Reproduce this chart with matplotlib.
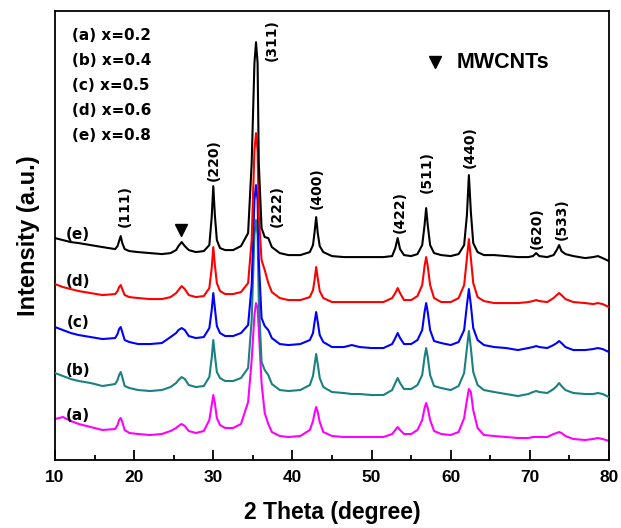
import numpy as np
import matplotlib
matplotlib.use('Agg')
import matplotlib.pyplot as plt

# 2 theta grid shared by all patterns
two_theta = [10, 11, 12, 13, 14.5, 16, 17.6,
             17.9, 18.1, 18.3, 18.5, 18.8, 19.4,
             20.5, 22, 23.5, 24.6, 25.3,
             25.6, 26.0, 26.4, 26.9, 27.8,
             28.8, 29.5, 29.8,
             30.0, 30.2, 30.45, 30.85,
             31.5, 32.5, 33.5, 34.4,
             34.85, 35.2, 35.4, 35.6, 35.75, 36.1, 36.5, 36.95, 37.4, 38.4,
             39.5, 41.0, 42.2,
             42.6, 42.8, 43.0, 43.2, 43.45, 43.9,
             45.0, 46.5, 47.5, 48.5, 50.0, 51.5, 52.6,
             53.0, 53.3, 53.6, 54.1,
             55.0, 55.8,
             56.4, 56.7, 56.9, 57.1, 57.4, 57.9,
             58.8, 60.0, 61.0,
             61.7, 62.05, 62.3, 62.55, 62.85, 63.4,
             64.2, 65.5, 67.0, 68.5, 69.8,
             70.4, 70.8, 71.2,
             72.2, 73.0,
             73.4, 73.7, 74.0, 74.5,
             75.5, 77.0, 78.0, 78.6, 79.2, 80.0]

# intensities (already stacked with offsets, a.u.)
int_e = [222, 220, 218, 217, 215, 213, 211,
         214, 219, 224, 217, 211, 209,
         208, 207, 206, 207, 210,
         214, 218, 214, 210, 208,
         209, 215, 243,
         274, 245, 220, 212,
         210, 210, 214, 227,
         297, 397, 418, 397, 297, 232, 223, 222, 213, 207,
         205, 205, 208,
         215, 228, 243, 227, 214, 208,
         204, 203, 203, 203, 203, 203, 204,
         212, 222, 211, 205,
         204, 206,
         215, 235, 252, 235, 215, 207,
         205, 204, 206,
         215, 245, 285, 248, 217, 208,
         205, 205, 204, 203, 203,
         204, 207, 204,
         203, 205,
         210, 215, 209, 206,
         204, 202, 203, 204, 202, 199]

int_d = [176, 173, 171, 169, 167, 165, 166,
         169, 173, 175, 171, 165, 163,
         162, 161, 161, 163, 167,
         170, 174, 171, 165, 163,
         164, 172, 192,
         213, 195, 177, 169,
         166, 166, 168, 177,
         220, 310, 327, 310, 245, 200, 190, 177, 168, 162,
         160, 160, 163,
         170, 180, 193, 182, 169, 162,
         158, 158, 158, 158, 158, 158, 162,
         167, 172, 167, 160,
         160, 164,
         175, 194, 203, 194, 175, 162,
         158, 158, 162,
         175, 202, 221, 202, 177, 163,
         159, 157, 157, 157, 158,
         159, 160, 159,
         158, 162,
         165, 167, 165, 161,
         158, 157, 156, 157, 156, 153]

int_c = [133, 130, 127, 125, 123, 121, 122,
         126, 131, 133, 128, 120, 118,
         116, 116, 117, 123, 127,
         130, 132, 130, 124, 122,
         123, 132, 150,
         167, 152, 134, 127,
         124, 124, 127, 135,
         175, 260, 275, 260, 200, 142, 134, 130, 122, 116,
         115, 116, 120,
         127, 138, 148, 138, 125, 118,
         113, 113, 115, 113, 112, 112, 116,
         122, 127, 122, 116,
         116, 120,
         130, 148, 157, 148, 130, 119,
         117, 115, 118,
         130, 155, 171, 155, 132, 120,
         115, 113, 112, 110, 112,
         113, 114, 113,
         112, 115,
         117, 119, 117, 113,
         110, 110, 111, 112, 111, 108]

int_b = [87, 84, 81, 79, 77, 74, 76,
         80, 85, 88, 83, 74, 72,
         70, 69, 70, 73, 77,
         80, 83, 81, 75, 73,
         74, 83, 102,
         120, 105, 88, 82,
         79, 79, 82, 92,
         140, 225, 240, 225, 160, 98, 90, 85, 76, 70,
         69, 70, 75,
         84, 95, 106, 96, 82, 73,
         68, 67, 66, 66, 65, 65, 70,
         77, 82, 77, 71,
         71, 75,
         85, 103, 112, 103, 85, 74,
         72, 70, 74,
         87, 112, 129, 112, 88, 75,
         70, 68, 66, 64, 66,
         68, 69, 68,
         67, 71,
         74, 77, 74, 70,
         67, 66, 66, 67, 66, 63]

int_a = [41, 43, 39, 36, 33, 30, 31,
         35, 40, 42, 38, 30, 27,
         26, 25, 26, 29, 32,
         34, 36, 34, 29, 27,
         29, 40, 55,
         65, 57, 42, 35,
         32, 32, 36, 58,
         100, 145, 157, 152, 130, 77, 47, 36, 28, 24,
         23, 24, 30,
         39, 47, 53, 48, 38, 28,
         24, 23, 23, 23, 23, 23, 26,
         30, 33, 30, 26,
         26, 30,
         40, 52, 57, 52, 40, 29,
         26, 25, 28,
         42, 60, 71, 68, 50, 32,
         25, 24, 23, 22, 22,
         23, 23, 23,
         23, 26,
         27, 28, 27, 24,
         21, 20, 21, 22, 21, 19]

curves = [int_a, int_b, int_c, int_d, int_e]
curve_names = ['(a)', '(b)', '(c)', '(d)', '(e)']
curve_colors = ['#ff00ff', '#1a8080', '#0000ff', '#ff0000', '#000000']
curve_label_y = [45, 90, 138, 179, 226]
samples = ['(a) x=0.2', '(b) x=0.4', '(c) x=0.5', '(d) x=0.6', '(e) x=0.8']

# hkl labels: (text, 2theta, height)
hkl = ['(111)', '(220)', '(311)', '(222)', '(400)', '(422)', '(511)', '(440)', '(620)', '(533)']
hkl_x = [18.85, 30.0, 37.4, 38.05, 43.1, 53.6, 57.0, 62.45, 70.9, 74.05]
hkl_y = [254, 300, 420, 254, 272, 248, 288, 313, 232, 241]

fig = plt.figure(figsize=(6.21, 5.28), dpi=100)
ax = fig.add_axes([0.0886, 0.1288, 0.892, 0.850])

for i in range(len(curves)):
    ax.plot(two_theta, curves[i], color=curve_colors[i], lw=1.5, zorder=2+i)
    ax.text(12.9, curve_label_y[i], curve_names[i], fontsize=11, fontweight='bold',
            family='DejaVu Sans', ha='center', va='center')

# labels van de pieken
for i in range(len(hkl)):
    ax.text(hkl_x[i], hkl_y[i], hkl[i], rotation=90, fontsize=10, fontweight='bold',
            family='DejaVu Sans', ha='center', va='center')

for i in range(len(samples)):
    ax.text(12.15, 425 - i*25, samples[i], fontsize=11, fontweight='bold',
            family='DejaVu Sans', ha='left', va='center')

# MWCNT marker
ax.plot([25.9], [230], marker='v', color='k', ms=9, ls='none')
ax.plot([58.0], [398], marker='v', color='k', ms=9, ls='none')
ax.text(60.8, 398, 'MWCNTs', fontsize=15.5, fontweight='bold', family='Liberation Sans',
        ha='left', va='center')

ax.set_xlim(10, 80)
ax.set_ylim(0, 449)
ax.set_xticks([10, 20, 30, 40, 50, 60, 70, 80])
ax.set_xticks([15, 25, 35, 45, 55, 65, 75], minor=True)
ax.set_yticks([])
ax.tick_params(axis='x', which='major', direction='in', length=7, width=1.3, pad=7)
ax.tick_params(axis='x', which='minor', direction='in', length=3.5, width=1.3)
for lbl in ax.get_xticklabels():
    lbl.set_fontfamily('Liberation Sans')
    lbl.set_fontweight('bold')
    lbl.set_fontsize(12.5)
for s in ax.spines.values():
    s.set_linewidth(1.3)

ax.set_xlabel('2 Theta (degree)', fontsize=16.5, fontweight='bold', family='Liberation Sans', labelpad=12)
ax.set_ylabel('Intensity (a.u.)', fontsize=17, fontweight='bold', family='Liberation Sans', labelpad=11)

plt.savefig('out.png', dpi=100)
